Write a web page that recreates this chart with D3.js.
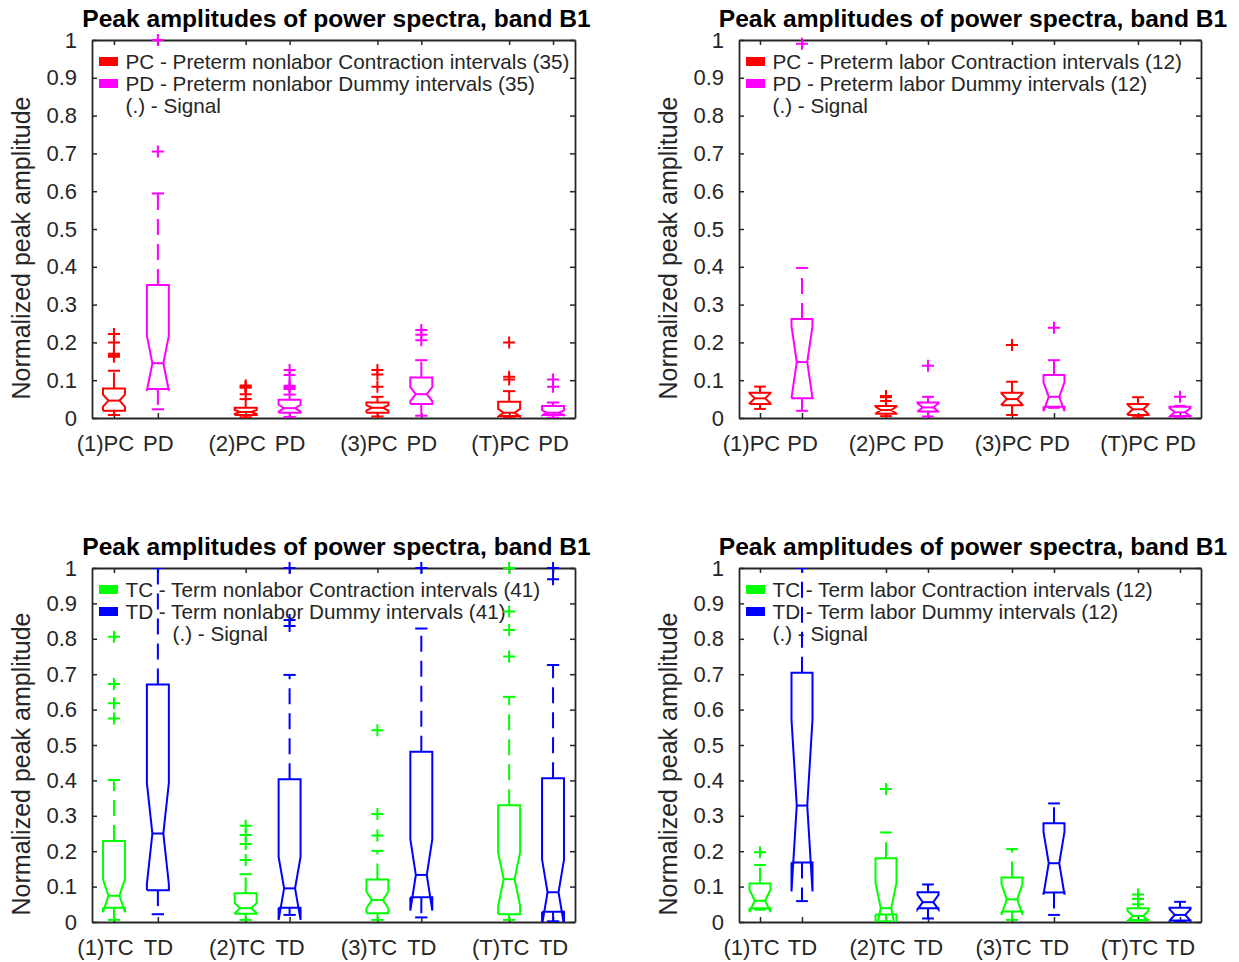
<!DOCTYPE html>
<html>
<head>
<meta charset="utf-8">
<script src="https://cdn.jsdelivr.net/npm/d3@7"></script>
<style>
  html, body { margin: 0; padding: 0; background: #fff; }
  svg { display: block; font-family: "Liberation Sans", Arial, Helvetica, sans-serif; }
</style>
</head>
<body>
<svg id="chart" width="1239" height="962"></svg>
<script>
// Box positions along each axis and the group names under them
const positions = [1, 2, 4, 5, 7, 8, 10, 11];
const groupNames = ["(1)", "(2)", "(3)", "(T)"];
const yTicks = [0, 0.1, 0.2, 0.3, 0.4, 0.5, 0.6, 0.7, 0.8, 0.9, 1];

// Each row: [lower whisker, Q1, median, Q3, upper whisker]
const pretermNonlaborBoxes = [
  [0.008, 0.019, 0.046, 0.078, 0.125],
  [0.023, 0.077, 0.145, 0.352, 0.594],
  [0.002, 0.008, 0.016, 0.027, 0.050],
  [0.003, 0.014, 0.026, 0.048, 0.062],
  [0.004, 0.014, 0.027, 0.041, 0.056],
  [0.006, 0.037, 0.063, 0.107, 0.153],
  [0.001, 0.005, 0.014, 0.043, 0.071],
  [0.001, 0.008, 0.014, 0.032, 0.041]
];
const pretermNonlaborOutliers = [
  [0.222, 0.200, 0.170, 0.166, 0.162],
  [0.705, 1.0],
  [0.063, 0.080, 0.083, 0.086],
  [0.077, 0.082, 0.085, 0.114, 0.127],
  [0.083, 0.115, 0.127],
  [0.206, 0.220, 0.233],
  [0.102, 0.109, 0.200],
  [0.083, 0.102]
];

const pretermLaborBoxes = [
  [0.024, 0.037, 0.052, 0.067, 0.083],
  [0.019, 0.052, 0.148, 0.262, 0.397],
  [0.005, 0.011, 0.021, 0.032, 0.045],
  [0.004, 0.017, 0.028, 0.041, 0.056],
  [0.008, 0.034, 0.050, 0.067, 0.096],
  [0.027, 0.030, 0.056, 0.114, 0.153],
  [0.002, 0.008, 0.023, 0.037, 0.055],
  [0.001, 0.005, 0.015, 0.030, 0.032]
];
const pretermLaborOutliers = [
  [],
  [0.99],
  [0.055, 0.058],
  [0.138],
  [0.193],
  [0.239],
  [],
  [0.056]
];

const termNonlaborBoxes = [
  [0.006, 0.040, 0.074, 0.229, 0.401],
  [0.022, 0.090, 0.250, 0.671, 1.0],
  [0.006, 0.023, 0.039, 0.081, 0.135],
  [0.020, 0.040, 0.095, 0.403, 0.698],
  [0.006, 0.025, 0.062, 0.120, 0.201],
  [0.013, 0.070, 0.133, 0.481, 0.829],
  [0.006, 0.022, 0.121, 0.330, 0.636],
  [0.002, 0.029, 0.084, 0.406, 0.726]
];
const termNonlaborOutliers = [
  [0.575, 0.618, 0.672, 0.806],
  [],
  [0.175, 0.220, 0.246, 0.272],
  [0.836, 0.853, 1.0],
  [0.244, 0.305, 0.542],
  [1.0],
  [0.750, 0.825, 0.877, 1.0],
  [0.968, 1.0]
];

const termLaborBoxes = [
  [0.035, 0.039, 0.060, 0.109, 0.161],
  [0.059, 0.168, 0.329, 0.704, 1.0],
  [0.002, 0.021, 0.039, 0.180, 0.253],
  [0.010, 0.039, 0.056, 0.084, 0.106],
  [0.006, 0.030, 0.064, 0.126, 0.206],
  [0.020, 0.083, 0.166, 0.279, 0.335],
  [0.000, 0.006, 0.017, 0.039, 0.050],
  [0.000, 0.004, 0.020, 0.040, 0.057]
];
const termLaborOutliers = [
  [0.197],
  [],
  [0.376],
  [],
  [],
  [],
  [0.065, 0.078],
  []
];

const titleText = "Peak amplitudes of power spectra, band B1";
const yLabelText = "Normalized peak amplitude";

const panels = [
  {
    left: 92, right: 575, top: 40, bottom: 418, n: 35,
    boxes: pretermNonlaborBoxes, outliers: pretermNonlaborOutliers,
    names: ["PC", "PD"], colors: ["#ff0000", "#ff00ff"],
    legend: ["PC - Preterm nonlabor Contraction intervals (35)",
             "PD - Preterm nonlabor Dummy intervals (35)"],
    signalIndent: 0
  },
  {
    left: 739, right: 1201, top: 40, bottom: 418, n: 12,
    boxes: pretermLaborBoxes, outliers: pretermLaborOutliers,
    names: ["PC", "PD"], colors: ["#ff0000", "#ff00ff"],
    legend: ["PC - Preterm labor Contraction intervals (12)",
             "PD - Preterm labor Dummy intervals (12)"],
    signalIndent: 0
  },
  {
    left: 92, right: 575, top: 568, bottom: 922, n: 41,
    boxes: termNonlaborBoxes, outliers: termNonlaborOutliers,
    names: ["TC", "TD"], colors: ["#00ff00", "#0000ff"],
    legend: ["TC - Term nonlabor Contraction intervals (41)",
             "TD - Term nonlabor Dummy intervals (41)"],
    signalIndent: 47
  },
  {
    left: 739, right: 1201, top: 568, bottom: 922, n: 12,
    boxes: termLaborBoxes, outliers: termLaborOutliers,
    names: ["TC", "TD"], colors: ["#00ff00", "#0000ff"],
    legend: ["TC - Term labor Contraction intervals (12)",
             "TD - Term labor Dummy intervals (12)"],
    signalIndent: 0
  }
];

const svg = d3.select("#chart");
const axisColor = "#262626";

panels.forEach((cfg, pi) => {
  const g = svg.append("g");
  const x = d3.scaleLinear().domain([0.5, 11.5]).range([cfg.left, cfg.right]);
  const y = d3.scaleLinear().domain([0, 1]).range([cfg.bottom, cfg.top]);

  const clipId = "plot-clip-" + pi;
  svg.append("defs").append("clipPath").attr("id", clipId)
    .append("rect")
    .attr("x", cfg.left).attr("y", cfg.top)
    .attr("width", cfg.right - cfg.left).attr("height", cfg.bottom - cfg.top);

  // Axes: inward ticks on all four sides
  const yFmt = d => (d === 0 ? "0" : d === 1 ? "1" : d.toFixed(1));
  const left = g.append("g").attr("transform", `translate(${cfg.left},0)`)
    .call(d3.axisLeft(y).tickValues(yTicks).tickFormat(yFmt)
      .tickSizeInner(-5).tickSizeOuter(0).tickPadding(15));
  const right = g.append("g").attr("transform", `translate(${cfg.right},0)`)
    .call(d3.axisRight(y).tickValues(yTicks).tickFormat("")
      .tickSizeInner(-5).tickSizeOuter(0));
  const top = g.append("g").attr("transform", `translate(0,${cfg.top})`)
    .call(d3.axisTop(x).tickValues(positions).tickFormat("")
      .tickSizeInner(-5).tickSizeOuter(0));
  const xLabels = positions.map((p, i) =>
    (i % 2 === 0 ? groupNames[i / 2] + cfg.names[0] : cfg.names[1]));
  const bottom = g.append("g").attr("transform", `translate(0,${cfg.bottom})`)
    .call(d3.axisBottom(x).tickValues(positions).tickFormat((d, i) => xLabels[i])
      .tickSizeInner(-5).tickSizeOuter(0).tickPadding(17));
  bottom.selectAll(".tick text").attr("dx", (d, i) => (i % 2 === 0 ? -9 : 0));

  [left, right, top, bottom].forEach(a => {
    a.selectAll("path.domain").attr("stroke", axisColor).attr("stroke-width", 1.8);
    a.selectAll(".tick line").attr("stroke", axisColor).attr("stroke-width", 1.5);
    a.selectAll(".tick text").attr("fill", axisColor)
      .style("font-size", "22px").style("font-family", "'Liberation Sans', Arial, sans-serif");
  });

  // Title and y label
  g.append("text")
    .attr("x", (cfg.left + cfg.right) / 2 + 3).attr("y", cfg.top - 13)
    .attr("text-anchor", "middle").attr("fill", "#000")
    .style("font-size", "24.6px").style("font-weight", "bold")
    .text(titleText);
  g.append("text")
    .attr("transform", `translate(${cfg.left - 62},${(cfg.top + cfg.bottom) / 2 + 19}) rotate(-90)`)
    .attr("text-anchor", "middle").attr("fill", axisColor)
    .style("font-size", "25px")
    .text(yLabelText);

  // Legend (no background, the marks are drawn over it)
  const lg = g.append("g");
  cfg.legend.forEach((t, i) => {
    const base = cfg.top + 29 + i * 22;
    lg.append("rect")
      .attr("x", cfg.left + 7).attr("y", base - 12)
      .attr("width", 19).attr("height", 9)
      .attr("fill", cfg.colors[i]);
    lg.append("text")
      .attr("x", cfg.left + 33.5).attr("y", base)
      .attr("fill", axisColor).style("font-size", "20.7px")
      .text(t);
  });
  lg.append("text")
    .attr("x", cfg.left + 33.5 + cfg.signalIndent).attr("y", cfg.top + 73)
    .attr("fill", axisColor).style("font-size", "20.7px")
    .text("(.) - Signal");

  // Notched boxes
  const marks = g.append("g").attr("clip-path", `url(#${clipId})`);
  const halfW = 0.25, capW = 0.14;
  cfg.boxes.forEach((b, i) => {
    const [lo, q1, med, q3, hi] = b;
    const p = positions[i];
    const color = cfg.colors[i % 2];
    const notch = 1.57 * (q3 - q1) / Math.sqrt(cfg.n);
    const nlo = med - notch, nhi = med + notch;
    const xl = x(p - halfW), xr = x(p + halfW);
    const xml = x(p - halfW / 2), xmr = x(p + halfW / 2);
    const outline = [
      [xl, y(q1)], [xr, y(q1)], [xr, y(nlo)], [xmr, y(med)], [xr, y(nhi)],
      [xr, y(q3)], [xl, y(q3)], [xl, y(nhi)], [xml, y(med)], [xl, y(nlo)], [xl, y(q1)]
    ];
    marks.append("path")
      .attr("d", d3.line()(outline))
      .attr("fill", "none").attr("stroke", color).attr("stroke-width", 2)
      .attr("stroke-linejoin", "miter");
    marks.append("line")
      .attr("x1", xml).attr("x2", xmr).attr("y1", y(med)).attr("y2", y(med))
      .attr("stroke", color).attr("stroke-width", 2);
    // Whiskers, dashed from the box outward, with caps
    [[q3, hi], [q1, lo]].forEach(([from, to]) => {
      if (Math.abs(to - from) < 1e-9) return;
      marks.append("line")
        .attr("x1", x(p)).attr("x2", x(p)).attr("y1", y(from)).attr("y2", y(to))
        .attr("stroke", color).attr("stroke-width", 2)
        .attr("stroke-dasharray", "16,9");
      marks.append("line")
        .attr("x1", x(p - capW)).attr("x2", x(p + capW)).attr("y1", y(to)).attr("y2", y(to))
        .attr("stroke", color).attr("stroke-width", 2);
    });
  });

  // Outliers drawn as plus signs
  const arm = 6;
  cfg.outliers.forEach((list, i) => {
    const color = cfg.colors[i % 2];
    const px = x(positions[i]);
    list.forEach(v => {
      const py = y(v);
      g.append("path")
        .attr("d", `M${px - arm},${py}H${px + arm}M${px},${py - arm}V${py + arm}`)
        .attr("stroke", color).attr("stroke-width", 2).attr("fill", "none");
    });
  });
});
</script>
</body>
</html>
